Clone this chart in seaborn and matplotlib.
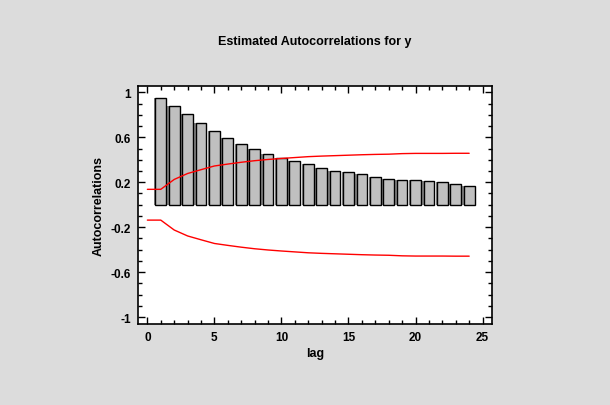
import matplotlib
matplotlib.use("Agg")
import matplotlib.pyplot as plt
import seaborn as sns
import pandas as pd
from matplotlib.ticker import MultipleLocator, FixedLocator, FixedFormatter

# Sample autocorrelations by lag
lags = list(range(1, 25))
acf = [0.950, 0.882, 0.810, 0.730, 0.656, 0.594, 0.538, 0.493, 0.449, 0.419,
       0.386, 0.360, 0.324, 0.297, 0.288, 0.270, 0.244, 0.229, 0.217, 0.217,
       0.208, 0.199, 0.182, 0.164]

# 95% probability limits, lag 0..24
limit_lags = list(range(0, 25))
upper_limit = [0.137, 0.137, 0.225, 0.278, 0.312, 0.345, 0.362, 0.378, 0.392,
               0.403, 0.412, 0.420, 0.428, 0.433, 0.437, 0.441, 0.445, 0.448,
               0.450, 0.455, 0.457, 0.457, 0.457, 0.458, 0.458]
lower_limit = [-v for v in upper_limit]

ytick_values = [1, 0.6, 0.2, -0.2, -0.6, -1]
ytick_labels = ["1", "0.6", "0.2", "-0.2", "-0.6", "-1"]
xtick_values = [0, 5, 10, 15, 20, 25]

sns.set_theme(style="white")
plt.rcParams["font.family"] = ["Liberation Sans", "DejaVu Sans"]
plt.rcParams["axes.unicode_minus"] = False
plt.rcParams["text.color"] = "black"
plt.rcParams["axes.labelcolor"] = "black"
plt.rcParams["xtick.color"] = "black"
plt.rcParams["ytick.color"] = "black"

fig = plt.figure(figsize=(6.10, 4.06), dpi=100, facecolor="#dcdcdc")
ax = fig.add_axes([0.2262, 0.1995, 0.5803, 0.5862])
ax.set_facecolor("white")

bars = pd.DataFrame({"lag": lags, "acf": acf})
limits = pd.DataFrame({"lag": limit_lags, "upper": upper_limit, "lower": lower_limit})

# Soft shadow behind the bars
sns.barplot(data=bars.assign(lag=bars["lag"] - 0.1), x="lag", y="acf",
            native_scale=True, width=0.8, color="#8a8a8a", edgecolor="none",
            linewidth=0, saturation=1, ax=ax, zorder=1)
sns.barplot(data=bars, x="lag", y="acf", native_scale=True, width=0.8,
            color="#c0c0c0", edgecolor="black", linewidth=1.0, saturation=1,
            ax=ax, zorder=2)
sns.lineplot(data=limits, x="lag", y="upper", color="red", linewidth=1.0, ax=ax, zorder=3)
sns.lineplot(data=limits, x="lag", y="lower", color="red", linewidth=1.0, ax=ax, zorder=3)

ax.set_xlim(-0.7, 25.7)
ax.set_ylim(-1.062, 1.057)

ax.xaxis.set_major_locator(FixedLocator(xtick_values))
ax.xaxis.set_minor_locator(MultipleLocator(1))
ax.yaxis.set_major_locator(FixedLocator(ytick_values))
ax.yaxis.set_major_formatter(FixedFormatter(ytick_labels))
ax.yaxis.set_minor_locator(MultipleLocator(0.1))

ax.tick_params(which="both", direction="in", top=True, right=True,
               bottom=True, left=True, color="black", width=1.0)
ax.tick_params(which="major", length=5, labelsize=8.5, pad=5, labelcolor="black")
ax.tick_params(which="minor", length=3)
for lbl in ax.get_xticklabels() + ax.get_yticklabels():
    lbl.set_fontweight("bold")

for side in ["left", "right", "top", "bottom"]:
    ax.spines[side].set_visible(True)
    ax.spines[side].set_color("black")
    ax.spines[side].set_linewidth(1.2)

ax.set_xlabel("lag", fontsize=9, fontweight="bold", labelpad=3, color="black")
ax.set_ylabel("Autocorrelations", fontsize=9, fontweight="bold", labelpad=4, color="black")
ax.set_title("Estimated Autocorrelations for y", fontsize=9, fontweight="bold",
             pad=30, color="black")
ax.grid(False)

fig.savefig("out.png", dpi=100, facecolor=fig.get_facecolor())
